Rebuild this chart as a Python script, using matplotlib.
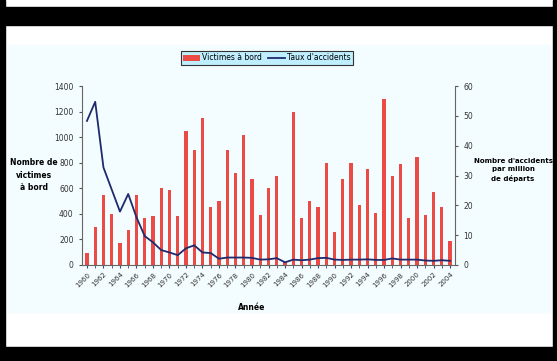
import numpy as np
import matplotlib
matplotlib.use("Agg")
import matplotlib.pyplot as plt
from matplotlib.patches import Rectangle

# Data
years = list(range(1960, 2005))
victimes = [90, 300, 550, 400, 170, 270, 550, 370, 385, 600,
            590, 380, 1050, 900, 1150, 450, 500, 900, 720, 1015,
            670, 390, 600, 700, 20, 1200, 370, 500, 450, 800,
            260, 670, 800, 470, 750, 410, 1300, 700, 790, 370,
            845, 390, 570, 450, 190]
taux = [48.3, 54.7, 32.7, 25.3, 17.9, 23.8, 16.0, 9.7, 7.6, 5.0,
        4.2, 3.3, 5.6, 6.6, 4.2, 4.0, 2.1, 2.5, 2.5, 2.5,
        2.4, 1.8, 1.9, 2.3, 0.9, 1.8, 1.6, 1.8, 2.3, 2.4,
        1.8, 1.7, 1.8, 1.8, 1.9, 1.7, 1.7, 2.2, 1.8, 1.8,
        1.8, 1.5, 1.4, 1.6, 1.4]
tick_years = list(range(1960, 2005, 2))

W, H = 557, 361
fig = plt.figure(figsize=(W / 100, H / 100), dpi=100)
fig.patch.set_facecolor("white")

# faint tinted chart area
fig.patches.append(Rectangle((8 / W, 1 - 312 / H), 542 / W, 267 / H,
                             transform=fig.transFigure, color="#f3fcfe", zorder=-5))

# black frame of the screenshot
for (x0, y0, w, h) in [(0, 7, W, 18), (0, 0, 5, H), (0, 347, W, 14), (553, 0, 4, H)]:
    fig.patches.append(Rectangle((x0 / W, 1 - (y0 + h) / H), w / W, h / H,
                                 transform=fig.transFigure, color="black", zorder=5))

ax = fig.add_axes([82 / W, 1 - 265 / H, 373 / W, 179 / H])
ax.set_zorder(1)
ax.set_facecolor("none")
idx = np.arange(len(years))
bars = ax.bar(idx, victimes, width=0.38, color="#ec4a44", label="Victimes à bord", zorder=2)
ax.set_xlim(-0.6, len(years) - 0.4)
ax.set_ylim(0, 1400)
ax.set_yticks(range(0, 1401, 200))
ax.set_xticks(idx, minor=True)
ax.set_xticks([years.index(y) for y in tick_years])
ax.set_xticklabels([str(y) for y in tick_years], rotation=45, ha="right",
                   rotation_mode="anchor", fontsize=5, color="#333333")
ax.tick_params(axis="y", labelsize=5.5, colors="#555555", length=2.5, labelcolor="#333333")
ax.tick_params(axis="x", which="both", length=2.5, color="#34507a", pad=2)
for s in ["top", "right"]:
    ax.spines[s].set_visible(False)
for s in ["left", "bottom"]:
    ax.spines[s].set_color("#666666")
    ax.spines[s].set_linewidth(0.8)

ax2 = ax.twinx()
ax2.set_zorder(2)
ax2.set_facecolor("none")
line, = ax2.plot(idx, taux, color="#1f2a6e", lw=1.3, label="Taux d'accidents", zorder=3)
ax2.set_ylim(0, 60)
ax2.set_yticks(range(0, 61, 10))
ax2.tick_params(axis="y", labelsize=5.5, colors="#555555", length=2.5, labelcolor="#333333")
for s in ["top", "left", "bottom"]:
    ax2.spines[s].set_visible(False)
ax2.spines["right"].set_color("#666666")
ax2.spines["right"].set_linewidth(0.8)

fig.text(34 / W, 1 - 175 / H, "Nombre de\nvictimes\nà bord", ha="center", va="center",
         fontsize=5.5, fontweight="bold", linespacing=1.5)
fig.text(513 / W, 1 - 170 / H, "Nombre d'accidents\npar million\nde départs", ha="center",
         va="center", fontsize=5, fontweight="bold", linespacing=1.4)
fig.text(252 / W, 1 - 307 / H, "Année", ha="center", va="center",
         fontsize=5.5, fontweight="bold")

leg = fig.legend([bars, line], ["Victimes à bord", "Taux d'accidents"], loc="center",
                 bbox_to_anchor=(267 / W, 1 - 58 / H), ncol=2, fontsize=5.5,
                 frameon=True, fancybox=False, handlelength=2.2, handletextpad=0.3,
                 columnspacing=0.8, borderpad=0.3)
leg.get_frame().set_facecolor("#bfefff")
leg.get_frame().set_edgecolor("#333333")
leg.get_frame().set_linewidth(0.8)
leg.get_frame().set_alpha(1)

fig.savefig("out.png", dpi=100)
